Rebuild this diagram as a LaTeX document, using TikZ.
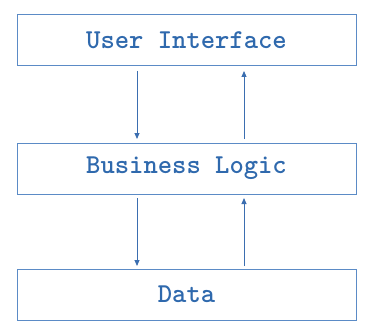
\documentclass[tikz,border=0pt]{standalone}
\usetikzlibrary{arrows.meta}
\definecolor{boxc}{HTML}{5B8BC6}
\definecolor{txtc}{HTML}{2F69AD}
\definecolor{arrc}{HTML}{3B6EB0}
\tikzset{
  layer/.style={draw=boxc, line width=1pt, minimum width=339pt, minimum height=51pt, inner sep=0pt,
    text=txtc, font=\ttfamily\bfseries\fontsize{27.3}{32}\selectfont},
  flow/.style={draw=arrc, line width=0.9pt, -{Triangle[length=6pt,width=5pt]}}
}
\begin{document}
\begin{tikzpicture}[x=1pt,y=-1pt]
\useasboundingbox (0,0) rectangle (371,331);
\node[layer] (ui) at (186.5,40.5) {User Interface};
\node[layer] (bl) at (186.5,168.5) {Business Logic};
\node[layer] (da) at (186.5,294.5) {Data};
\coordinate (a1s) at (137,71);
\coordinate (a1e) at (137,139);
\coordinate (a2s) at (244,139);
\coordinate (a2e) at (244,71);
\coordinate (a3s) at (137,198);
\coordinate (a3e) at (137,266);
\coordinate (a4s) at (244,266);
\coordinate (a4e) at (244,198);
\draw[flow] (a1s) -- (a1e);
\draw[flow] (a2s) -- (a2e);
\draw[flow] (a3s) -- (a3e);
\draw[flow] (a4s) -- (a4e);
\end{tikzpicture}
\end{document}
